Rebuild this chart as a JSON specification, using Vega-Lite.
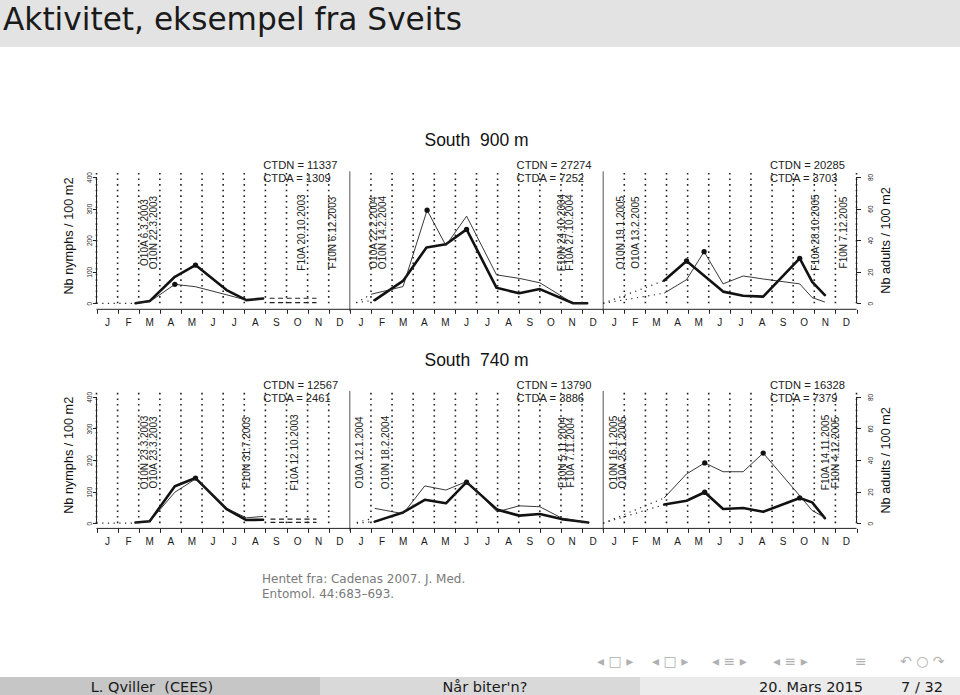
{
"$schema": "https://vega.github.io/schema/vega-lite/v6.json",
"padding": 0,
"background": "white",
"spacing": 0,
"bounds": "flush",
"config": {"view": {"stroke": null}, "font": "Liberation Sans"},
"datasets": {
 "grid": [{"m":0,"type":"month"},{"m":1,"type":"month"},{"m":2,"type":"month"},{"m":3,"type":"month"},{"m":4,"type":"month"},{"m":5,"type":"month"},{"m":6,"type":"month"},{"m":7,"type":"month"},{"m":8,"type":"month"},{"m":9,"type":"month"},{"m":10,"type":"month"},{"m":11,"type":"month"},{"m":12,"type":"year"},{"m":13,"type":"month"},{"m":14,"type":"month"},{"m":15,"type":"month"},{"m":16,"type":"month"},{"m":17,"type":"month"},{"m":18,"type":"month"},{"m":19,"type":"month"},{"m":20,"type":"month"},{"m":21,"type":"month"},{"m":22,"type":"month"},{"m":23,"type":"month"},{"m":24,"type":"year"},{"m":25,"type":"month"},{"m":26,"type":"month"},{"m":27,"type":"month"},{"m":28,"type":"month"},{"m":29,"type":"month"},{"m":30,"type":"month"},{"m":31,"type":"month"},{"m":32,"type":"month"},{"m":33,"type":"month"},{"m":34,"type":"month"},{"m":35,"type":"month"},{"m":36,"type":"month"}],
 "series": [
  {"panel":"900","stage":"N","segment":"2003b","kind":"before","month":0,"count":0},
  {"panel":"900","stage":"N","segment":"2003b","kind":"before","month":1.85,"count":0},
  {"panel":"900","stage":"N","segment":"2003","kind":"sampled","month":1.85,"count":0},
  {"panel":"900","stage":"N","segment":"2003","kind":"sampled","month":2.52,"count":7},
  {"panel":"900","stage":"N","segment":"2003","kind":"sampled","month":3.71,"count":84},
  {"panel":"900","stage":"N","segment":"2003","kind":"sampled","month":4.69,"count":121,"peak":true},
  {"panel":"900","stage":"N","segment":"2003","kind":"sampled","month":6.16,"count":42},
  {"panel":"900","stage":"N","segment":"2003","kind":"sampled","month":7.1,"count":10},
  {"panel":"900","stage":"N","segment":"2003","kind":"sampled","month":7.89,"count":15},
  {"panel":"900","stage":"N","segment":"2003c","kind":"after","month":8.2,"count":16},
  {"panel":"900","stage":"N","segment":"2003c","kind":"after","month":10.42,"count":16},
  {"panel":"900","stage":"N","segment":"2004b","kind":"before","month":12.3,"count":2},
  {"panel":"900","stage":"N","segment":"2004b","kind":"before","month":13.18,"count":10},
  {"panel":"900","stage":"N","segment":"2004","kind":"sampled","month":13.18,"count":10},
  {"panel":"900","stage":"N","segment":"2004","kind":"sampled","month":14.52,"count":71},
  {"panel":"900","stage":"N","segment":"2004","kind":"sampled","month":15.63,"count":177},
  {"panel":"900","stage":"N","segment":"2004","kind":"sampled","month":16.55,"count":187},
  {"panel":"900","stage":"N","segment":"2004","kind":"sampled","month":17.53,"count":234,"peak":true},
  {"panel":"900","stage":"N","segment":"2004","kind":"sampled","month":18.95,"count":49},
  {"panel":"900","stage":"N","segment":"2004","kind":"sampled","month":20.02,"count":32},
  {"panel":"900","stage":"N","segment":"2004","kind":"sampled","month":21.0,"count":45},
  {"panel":"900","stage":"N","segment":"2004","kind":"sampled","month":22.58,"count":0},
  {"panel":"900","stage":"N","segment":"2004","kind":"sampled","month":23.24,"count":0},
  {"panel":"900","stage":"N","segment":"2005b","kind":"before","month":24,"count":0},
  {"panel":"900","stage":"N","segment":"2005b","kind":"before","month":26.89,"count":72},
  {"panel":"900","stage":"N","segment":"2005","kind":"sampled","month":26.89,"count":72},
  {"panel":"900","stage":"N","segment":"2005","kind":"sampled","month":27.95,"count":134,"peak":true},
  {"panel":"900","stage":"N","segment":"2005","kind":"sampled","month":29.68,"count":37},
  {"panel":"900","stage":"N","segment":"2005","kind":"sampled","month":30.63,"count":24},
  {"panel":"900","stage":"N","segment":"2005","kind":"sampled","month":31.58,"count":21},
  {"panel":"900","stage":"N","segment":"2005","kind":"sampled","month":33.31,"count":142,"peak":true},
  {"panel":"900","stage":"N","segment":"2005","kind":"sampled","month":33.9,"count":68},
  {"panel":"900","stage":"N","segment":"2005","kind":"sampled","month":34.5,"count":26},
  {"panel":"900","stage":"A","segment":"2003","kind":"sampled","month":1.85,"count":0},
  {"panel":"900","stage":"A","segment":"2003","kind":"sampled","month":2.52,"count":1},
  {"panel":"900","stage":"A","segment":"2003","kind":"sampled","month":3.71,"count":12,"peak":true},
  {"panel":"900","stage":"A","segment":"2003","kind":"sampled","month":4.69,"count":10.5},
  {"panel":"900","stage":"A","segment":"2003","kind":"sampled","month":6.16,"count":5.4},
  {"panel":"900","stage":"A","segment":"2003","kind":"sampled","month":7.1,"count":2},
  {"panel":"900","stage":"A","segment":"2003","kind":"sampled","month":7.89,"count":2.8},
  {"panel":"900","stage":"A","segment":"2003c","kind":"after","month":8.2,"count":0.4},
  {"panel":"900","stage":"A","segment":"2003c","kind":"after","month":10.42,"count":0.4},
  {"panel":"900","stage":"A","segment":"2004b","kind":"before","month":12.3,"count":0.4},
  {"panel":"900","stage":"A","segment":"2004b","kind":"before","month":13.03,"count":5.8},
  {"panel":"900","stage":"A","segment":"2004","kind":"sampled","month":13.03,"count":5.8},
  {"panel":"900","stage":"A","segment":"2004","kind":"sampled","month":14.52,"count":10.6},
  {"panel":"900","stage":"A","segment":"2004","kind":"sampled","month":15.66,"count":59,"peak":true},
  {"panel":"900","stage":"A","segment":"2004","kind":"sampled","month":16.55,"count":36.6},
  {"panel":"900","stage":"A","segment":"2004","kind":"sampled","month":17.53,"count":55.2},
  {"panel":"900","stage":"A","segment":"2004","kind":"sampled","month":18.95,"count":18},
  {"panel":"900","stage":"A","segment":"2004","kind":"sampled","month":20.02,"count":15.8},
  {"panel":"900","stage":"A","segment":"2004","kind":"sampled","month":21.0,"count":13},
  {"panel":"900","stage":"A","segment":"2004","kind":"sampled","month":22.58,"count":0},
  {"panel":"900","stage":"A","segment":"2004","kind":"sampled","month":23.24,"count":0},
  {"panel":"900","stage":"A","segment":"2005b","kind":"before","month":24,"count":0},
  {"panel":"900","stage":"A","segment":"2005b","kind":"before","month":26.89,"count":6.4},
  {"panel":"900","stage":"A","segment":"2005","kind":"sampled","month":26.89,"count":6.4},
  {"panel":"900","stage":"A","segment":"2005","kind":"sampled","month":27.95,"count":15},
  {"panel":"900","stage":"A","segment":"2005","kind":"sampled","month":28.78,"count":32.7,"peak":true},
  {"panel":"900","stage":"A","segment":"2005","kind":"sampled","month":29.68,"count":12.3},
  {"panel":"900","stage":"A","segment":"2005","kind":"sampled","month":30.63,"count":17.3},
  {"panel":"900","stage":"A","segment":"2005","kind":"sampled","month":31.58,"count":15.4},
  {"panel":"900","stage":"A","segment":"2005","kind":"sampled","month":33.31,"count":12.3},
  {"panel":"900","stage":"A","segment":"2005","kind":"sampled","month":33.9,"count":3.6},
  {"panel":"900","stage":"A","segment":"2005","kind":"sampled","month":34.5,"count":0.8},
  {"panel":"740","stage":"N","segment":"2003b","kind":"before","month":0,"count":0},
  {"panel":"740","stage":"N","segment":"2003b","kind":"before","month":1.85,"count":0},
  {"panel":"740","stage":"N","segment":"2003","kind":"sampled","month":1.85,"count":2},
  {"panel":"740","stage":"N","segment":"2003","kind":"sampled","month":2.52,"count":6},
  {"panel":"740","stage":"N","segment":"2003","kind":"sampled","month":3.71,"count":117},
  {"panel":"740","stage":"N","segment":"2003","kind":"sampled","month":4.69,"count":143,"peak":true},
  {"panel":"740","stage":"N","segment":"2003","kind":"sampled","month":6.16,"count":45},
  {"panel":"740","stage":"N","segment":"2003","kind":"sampled","month":7.1,"count":10},
  {"panel":"740","stage":"N","segment":"2003","kind":"sampled","month":7.89,"count":11},
  {"panel":"740","stage":"N","segment":"2003c","kind":"after","month":8.24,"count":13},
  {"panel":"740","stage":"N","segment":"2003c","kind":"after","month":10.42,"count":13},
  {"panel":"740","stage":"N","segment":"2004b","kind":"before","month":12.33,"count":0},
  {"panel":"740","stage":"N","segment":"2004b","kind":"before","month":13.18,"count":5},
  {"panel":"740","stage":"N","segment":"2004","kind":"sampled","month":13.18,"count":5},
  {"panel":"740","stage":"N","segment":"2004","kind":"sampled","month":14.52,"count":34},
  {"panel":"740","stage":"N","segment":"2004","kind":"sampled","month":15.55,"count":74},
  {"panel":"740","stage":"N","segment":"2004","kind":"sampled","month":16.55,"count":63},
  {"panel":"740","stage":"N","segment":"2004","kind":"sampled","month":17.53,"count":130,"peak":true},
  {"panel":"740","stage":"N","segment":"2004","kind":"sampled","month":18.98,"count":43},
  {"panel":"740","stage":"N","segment":"2004","kind":"sampled","month":20.02,"count":24},
  {"panel":"740","stage":"N","segment":"2004","kind":"sampled","month":21.0,"count":29},
  {"panel":"740","stage":"N","segment":"2004","kind":"sampled","month":22.03,"count":13},
  {"panel":"740","stage":"N","segment":"2004","kind":"sampled","month":22.74,"count":7},
  {"panel":"740","stage":"N","segment":"2004","kind":"sampled","month":23.29,"count":2},
  {"panel":"740","stage":"N","segment":"2005b","kind":"before","month":24,"count":0},
  {"panel":"740","stage":"N","segment":"2005b","kind":"before","month":26.89,"count":59},
  {"panel":"740","stage":"N","segment":"2005","kind":"sampled","month":26.89,"count":59},
  {"panel":"740","stage":"N","segment":"2005","kind":"sampled","month":27.95,"count":71},
  {"panel":"740","stage":"N","segment":"2005","kind":"sampled","month":28.81,"count":98,"peak":true},
  {"panel":"740","stage":"N","segment":"2005","kind":"sampled","month":29.68,"count":45},
  {"panel":"740","stage":"N","segment":"2005","kind":"sampled","month":30.63,"count":48},
  {"panel":"740","stage":"N","segment":"2005","kind":"sampled","month":31.58,"count":36},
  {"panel":"740","stage":"N","segment":"2005","kind":"sampled","month":33.31,"count":80,"peak":true},
  {"panel":"740","stage":"N","segment":"2005","kind":"sampled","month":33.9,"count":66},
  {"panel":"740","stage":"N","segment":"2005","kind":"sampled","month":34.5,"count":16},
  {"panel":"740","stage":"A","segment":"2003","kind":"sampled","month":1.85,"count":0.4},
  {"panel":"740","stage":"A","segment":"2003","kind":"sampled","month":2.52,"count":1},
  {"panel":"740","stage":"A","segment":"2003","kind":"sampled","month":3.71,"count":19.6},
  {"panel":"740","stage":"A","segment":"2003","kind":"sampled","month":4.69,"count":28},
  {"panel":"740","stage":"A","segment":"2003","kind":"sampled","month":6.16,"count":9.4},
  {"panel":"740","stage":"A","segment":"2003","kind":"sampled","month":7.1,"count":3.4},
  {"panel":"740","stage":"A","segment":"2003","kind":"sampled","month":7.89,"count":4.3},
  {"panel":"740","stage":"A","segment":"2003c","kind":"after","month":8.24,"count":0.5},
  {"panel":"740","stage":"A","segment":"2003c","kind":"after","month":10.42,"count":0.5},
  {"panel":"740","stage":"A","segment":"2004b","kind":"before","month":12.33,"count":0.5},
  {"panel":"740","stage":"A","segment":"2004b","kind":"before","month":12.96,"count":2.6},
  {"panel":"740","stage":"A","segment":"2004","kind":"sampled","month":13.18,"count":9.4},
  {"panel":"740","stage":"A","segment":"2004","kind":"sampled","month":14.52,"count":6},
  {"panel":"740","stage":"A","segment":"2004","kind":"sampled","month":15.55,"count":23.6},
  {"panel":"740","stage":"A","segment":"2004","kind":"sampled","month":16.55,"count":21},
  {"panel":"740","stage":"A","segment":"2004","kind":"sampled","month":17.53,"count":26.4},
  {"panel":"740","stage":"A","segment":"2004","kind":"sampled","month":18.98,"count":7.2},
  {"panel":"740","stage":"A","segment":"2004","kind":"sampled","month":20.02,"count":11},
  {"panel":"740","stage":"A","segment":"2004","kind":"sampled","month":21.0,"count":10.4},
  {"panel":"740","stage":"A","segment":"2004","kind":"sampled","month":22.03,"count":3.3},
  {"panel":"740","stage":"A","segment":"2004","kind":"sampled","month":22.74,"count":1.6},
  {"panel":"740","stage":"A","segment":"2004","kind":"sampled","month":23.29,"count":0.4},
  {"panel":"740","stage":"A","segment":"2005b","kind":"before","month":24,"count":0},
  {"panel":"740","stage":"A","segment":"2005b","kind":"before","month":26.89,"count":16},
  {"panel":"740","stage":"A","segment":"2005","kind":"sampled","month":26.89,"count":16},
  {"panel":"740","stage":"A","segment":"2005","kind":"sampled","month":27.95,"count":31.2},
  {"panel":"740","stage":"A","segment":"2005","kind":"sampled","month":28.81,"count":38.2,"peak":true},
  {"panel":"740","stage":"A","segment":"2005","kind":"sampled","month":29.68,"count":32.6},
  {"panel":"740","stage":"A","segment":"2005","kind":"sampled","month":30.63,"count":32.6},
  {"panel":"740","stage":"A","segment":"2005","kind":"sampled","month":31.58,"count":44.4,"peak":true},
  {"panel":"740","stage":"A","segment":"2005","kind":"sampled","month":33.31,"count":17.4},
  {"panel":"740","stage":"A","segment":"2005","kind":"sampled","month":33.9,"count":8},
  {"panel":"740","stage":"A","segment":"2005","kind":"sampled","month":34.5,"count":3.6}
 ],
 "notes": [
  {"panel":"900","month":2.31,"label":"O10A 6.3.2003"},
  {"panel":"900","month":2.71,"label":"O10N 22.3.2003"},
  {"panel":"900","month":9.74,"label":"F10A 20.10.2003"},
  {"panel":"900","month":11.2,"label":"F10N 6.12.2003"},
  {"panel":"900","month":13.13,"label":"O10A 22.2.2004"},
  {"panel":"900","month":13.57,"label":"O10N 14.2.2004"},
  {"panel":"900","month":22.06,"label":"F10N 24.10.2004"},
  {"panel":"900","month":22.43,"label":"F10A 27.10.2004"},
  {"panel":"900","month":24.85,"label":"O10N 19.1.2005"},
  {"panel":"900","month":25.57,"label":"O10A 13.2.2005"},
  {"panel":"900","month":34.06,"label":"F10A 28.10.2005"},
  {"panel":"900","month":35.42,"label":"F10N 7.12.2005"},
  {"panel":"740","month":2.31,"label":"O10N 23.3.2003"},
  {"panel":"740","month":2.71,"label":"O10A 23.3.2003"},
  {"panel":"740","month":7.11,"label":"F10N 31.7.2003"},
  {"panel":"740","month":9.38,"label":"F10A 12.10.2003"},
  {"panel":"740","month":12.5,"label":"O10A 12.1.2004"},
  {"panel":"740","month":13.69,"label":"O10N 18.2.2004"},
  {"panel":"740","month":22.11,"label":"F10N 5.11.2004"},
  {"panel":"740","month":22.49,"label":"F10A 7.11.2004"},
  {"panel":"740","month":24.53,"label":"O10N 16.1.2005"},
  {"panel":"740","month":24.94,"label":"O10A 25.1.2005"},
  {"panel":"740","month":34.57,"label":"F10A 14.11.2005"},
  {"panel":"740","month":35.04,"label":"F10N 4.12.2005"}
 ],
 "totals": [
  {"panel":"900","month":7.9,"ctdn":"CTDN = 11337","ctda":"CTDA = 1309"},
  {"panel":"900","month":19.9,"ctdn":"CTDN = 27274","ctda":"CTDA = 7252"},
  {"panel":"900","month":31.9,"ctdn":"CTDN = 20285","ctda":"CTDA = 3703"},
  {"panel":"740","month":7.9,"ctdn":"CTDN = 12567","ctda":"CTDA = 2461"},
  {"panel":"740","month":19.9,"ctdn":"CTDN = 13790","ctda":"CTDA = 3886"},
  {"panel":"740","month":31.9,"ctdn":"CTDN = 16328","ctda":"CTDA = 7379"}
 ]
},
"vconcat": [
 {
  "width": 960, "height": 47,
  "view": {"fill": "#e3e3e3", "stroke": null},
  "data": {"values": [{"title": "Aktivitet, eksempel fra Sveits"}]},
  "mark": {"type": "text", "x": 3, "y": 30, "align": "left", "baseline": "alphabetic", "font": "DejaVu Sans", "fontSize": 31.2, "color": "#1a1a1a"},
  "encoding": {"text": {"field": "title"}}
 },
 {
  "width": 960, "height": 262.3,
  "layer": [
   {"layer": [
    {"data": {"name": "series"}, "transform": [{"filter": "datum.panel == '900' && datum.stage == 'N' && datum.kind == 'sampled'"}],
     "mark": {"type": "line", "strokeWidth": 2.6, "color": "#111", "strokeJoin": "round", "strokeCap": "round"},
     "encoding": {
      "x": {"field": "month", "type": "quantitative", "scale": {"domain": [-4.571, 40.902], "nice": false, "zero": false}, "axis": {"values": [0.5,1.5,2.5,3.5,4.5,5.5,6.5,7.5,8.5,9.5,10.5,11.5,12.5,13.5,14.5,15.5,16.5,17.5,18.5,19.5,20.5,21.5,22.5,23.5,24.5,25.5,26.5,27.5,28.5,29.5,30.5,31.5,32.5,33.5,34.5,35.5,36.5], "tickCount": 100, "labelExpr": "datum.value > 36 ? '' : ['J','F','M','A','M','J','J','A','S','O','N','D'][floor(datum.value) % 12]", "tickOffset": -10.5557, "labelOffset": 10.5557, "domain": false, "grid": false, "tickSize": 4, "tickColor": "#222", "labelFontSize": 10, "labelColor": "#1a1a1a", "labelPadding": 4.5, "labelFlush": false, "labelOverlap": false, "title": null}},
      "y": {"field": "count", "type": "quantitative", "scale": {"domain": [-19, 811.72], "nice": false, "zero": false}, "axis": {"orient": "left", "offset": -96.5, "values": [0,100,200,300,400], "tickCount": 50, "domain": false, "grid": false, "tickSize": 4, "tickColor": "#222", "labelAngle": 270, "labelAlign": "center", "labelBaseline": "bottom", "labelPadding": 0.5, "labelFontSize": 6.5, "labelColor": "#222", "title": null}},
      "detail": {"field": "segment"}}},
    {"data": {"name": "grid"}, "transform": [{"filter": "datum.type == 'month'"}],
     "mark": {"type": "rule", "strokeDash": [1.6, 4], "strokeWidth": 1.6, "color": "#222"},
     "encoding": {"x": {"field": "m", "type": "quantitative"}, "y": {"datum": 0, "type": "quantitative"}, "y2": {"datum": 422}}},
    {"data": {"name": "grid"}, "transform": [{"filter": "datum.type == 'year'"}],
     "mark": {"type": "rule", "strokeWidth": 1, "color": "#555"},
     "encoding": {"x": {"field": "m", "type": "quantitative"}, "y": {"datum": -25}, "y2": {"datum": 418}}},
    {"data": {"values": [{}]}, "mark": {"type": "rule", "strokeWidth": 1, "color": "#222"},
     "encoding": {"x": {"datum": 0}, "y": {"datum": 0}, "y2": {"datum": 400}}},
    {"data": {"values": [{}]}, "mark": {"type": "rule", "strokeWidth": 1, "color": "#222"},
     "encoding": {"x": {"datum": 36}, "y": {"datum": 0}, "y2": {"datum": 400}}},
    {"data": {"values": [{}]}, "mark": {"type": "rule", "strokeWidth": 1, "color": "#222"},
     "encoding": {"x": {"datum": 0}, "x2": {"datum": 36}, "y": {"datum": -19}}},
    {"data": {"name": "notes"}, "transform": [{"filter": "datum.panel == '900'"}],
     "mark": {"type": "text", "angle": 270, "align": "center", "baseline": "middle", "fontSize": 10, "color": "#222"},
     "encoding": {"x": {"field": "month", "type": "quantitative"}, "y": {"datum": 224}, "text": {"field": "label"}}},
    {"data": {"name": "totals"}, "transform": [{"filter": "datum.panel == '900'"}],
     "mark": {"type": "text", "align": "left", "baseline": "middle", "fontSize": 11.2, "color": "#222"},
     "encoding": {"x": {"field": "month", "type": "quantitative"}, "y": {"datum": 434}, "text": {"field": "ctdn"}}},
    {"data": {"name": "totals"}, "transform": [{"filter": "datum.panel == '900'"}],
     "mark": {"type": "text", "align": "left", "baseline": "middle", "fontSize": 11.2, "color": "#222"},
     "encoding": {"x": {"field": "month", "type": "quantitative"}, "y": {"datum": 393}, "text": {"field": "ctda"}}},
    {"data": {"values": [{}]},
     "mark": {"type": "text", "align": "center", "baseline": "middle", "fontSize": 17.5, "color": "#111"},
     "encoding": {"x": {"datum": 18}, "y": {"datum": 513}, "text": {"value": "South\u00a0 900 m"}}},
    {"data": {"values": [{}]},
     "mark": {"type": "text", "angle": 270, "align": "center", "baseline": "middle", "fontSize": 12.7, "color": "#111"},
     "encoding": {"x": {"datum": -1.32}, "y": {"datum": 213}, "text": {"value": "Nb nymphs / 100 m2"}}},
    {"data": {"values": [{}]},
     "mark": {"type": "text", "angle": 270, "align": "center", "baseline": "middle", "fontSize": 12.7, "color": "#111"},
     "encoding": {"x": {"datum": 37.42}, "y": {"datum": 199}, "text": {"value": "Nb adults / 100 m2"}}},
    {"data": {"name": "series"}, "transform": [{"filter": "datum.panel == '900' && datum.stage == 'N' && datum.kind != 'sampled'"}],
     "mark": {"type": "line", "strokeWidth": 1.2, "color": "#222"},
     "encoding": {"x": {"field": "month", "type": "quantitative"}, "y": {"field": "count", "type": "quantitative"}, "detail": {"field": "segment"},
      "strokeDash": {"field": "kind", "type": "nominal", "scale": {"domain": ["before", "after"], "range": [[1.2, 4.5], [5, 3.5]]}, "legend": null}}},
    {"data": {"name": "series"}, "transform": [{"filter": "datum.panel == '900' && datum.stage == 'N' && datum.peak"}],
     "mark": {"type": "circle", "size": 28, "color": "#111", "opacity": 1},
     "encoding": {"x": {"field": "month", "type": "quantitative"}, "y": {"field": "count", "type": "quantitative"}}}
   ]},
   {"layer": [
    {"data": {"name": "series"}, "transform": [{"filter": "datum.panel == '900' && datum.stage == 'A' && datum.kind == 'sampled'"}],
     "mark": {"type": "line", "strokeWidth": 0.9, "color": "#222"},
     "encoding": {"x": {"field": "month", "type": "quantitative"},
      "y": {"field": "count", "type": "quantitative", "scale": {"domain": [-3.8, 162.344], "nice": false, "zero": false}, "axis": {"orient": "right", "offset": -103.5, "values": [0,20,40,60,80], "tickCount": 50, "domain": false, "grid": false, "tickSize": 4, "tickColor": "#222", "labelAngle": 270, "labelAlign": "center", "labelBaseline": "top", "labelPadding": 6.5, "labelFontSize": 6.5, "labelColor": "#222", "title": null}},
      "detail": {"field": "segment"}}},
    {"data": {"name": "series"}, "transform": [{"filter": "datum.panel == '900' && datum.stage == 'A' && datum.kind != 'sampled'"}],
     "mark": {"type": "line", "strokeWidth": 1.1, "color": "#222"},
     "encoding": {"x": {"field": "month", "type": "quantitative"}, "y": {"field": "count", "type": "quantitative"}, "detail": {"field": "segment"},
      "strokeDash": {"field": "kind", "type": "nominal", "scale": {"domain": ["before", "after"], "range": [[1.2, 4.5], [5, 3.5]]}, "legend": null}}},
    {"data": {"name": "series"}, "transform": [{"filter": "datum.panel == '900' && datum.stage == 'A' && datum.peak"}],
     "mark": {"type": "circle", "size": 28, "color": "#111", "opacity": 1},
     "encoding": {"x": {"field": "month", "type": "quantitative"}, "y": {"field": "count", "type": "quantitative"}}}
   ]}
  ],
  "resolve": {"scale": {"y": "independent"}, "axis": {"y": "independent"}}
 },
 {
  "width": 960, "height": 218.4,
  "layer": [
   {"layer": [
    {"data": {"name": "series"}, "transform": [{"filter": "datum.panel == '740' && datum.stage == 'N' && datum.kind == 'sampled'"}],
     "mark": {"type": "line", "strokeWidth": 2.6, "color": "#111", "strokeJoin": "round", "strokeCap": "round"},
     "encoding": {
      "x": {"field": "month", "type": "quantitative", "scale": {"domain": [-4.571, 40.902], "nice": false, "zero": false}, "axis": {"values": [0.5,1.5,2.5,3.5,4.5,5.5,6.5,7.5,8.5,9.5,10.5,11.5,12.5,13.5,14.5,15.5,16.5,17.5,18.5,19.5,20.5,21.5,22.5,23.5,24.5,25.5,26.5,27.5,28.5,29.5,30.5,31.5,32.5,33.5,34.5,35.5,36.5], "tickCount": 100, "labelExpr": "datum.value > 36 ? '' : ['J','F','M','A','M','J','J','A','S','O','N','D'][floor(datum.value) % 12]", "tickOffset": -10.5557, "labelOffset": 10.5557, "domain": false, "grid": false, "tickSize": 4, "tickColor": "#222", "labelFontSize": 10, "labelColor": "#1a1a1a", "labelPadding": 4.5, "labelFlush": false, "labelOverlap": false, "title": null}},
      "y": {"field": "count", "type": "quantitative", "scale": {"domain": [-16.47, 675.22], "nice": false, "zero": false}, "axis": {"orient": "left", "offset": -96.5, "values": [0,100,200,300,400], "tickCount": 50, "domain": false, "grid": false, "tickSize": 4, "tickColor": "#222", "labelAngle": 270, "labelAlign": "center", "labelBaseline": "bottom", "labelPadding": 0.5, "labelFontSize": 6.5, "labelColor": "#222", "title": null}},
      "detail": {"field": "segment"}}},
    {"data": {"name": "grid"}, "transform": [{"filter": "datum.type == 'month'"}],
     "mark": {"type": "rule", "strokeDash": [1.6, 4], "strokeWidth": 1.6, "color": "#222"},
     "encoding": {"x": {"field": "m", "type": "quantitative"}, "y": {"datum": 0, "type": "quantitative"}, "y2": {"datum": 421}}},
    {"data": {"name": "grid"}, "transform": [{"filter": "datum.type == 'year'"}],
     "mark": {"type": "rule", "strokeWidth": 1, "color": "#555"},
     "encoding": {"x": {"field": "m", "type": "quantitative"}, "y": {"datum": -24}, "y2": {"datum": 419}}},
    {"data": {"values": [{}]}, "mark": {"type": "rule", "strokeWidth": 1, "color": "#222"},
     "encoding": {"x": {"datum": 0}, "y": {"datum": 0}, "y2": {"datum": 400}}},
    {"data": {"values": [{}]}, "mark": {"type": "rule", "strokeWidth": 1, "color": "#222"},
     "encoding": {"x": {"datum": 36}, "y": {"datum": 0}, "y2": {"datum": 400}}},
    {"data": {"values": [{}]}, "mark": {"type": "rule", "strokeWidth": 1, "color": "#222"},
     "encoding": {"x": {"datum": 0}, "x2": {"datum": 36}, "y": {"datum": -16.47}}},
    {"data": {"name": "notes"}, "transform": [{"filter": "datum.panel == '740'"}],
     "mark": {"type": "text", "angle": 270, "align": "center", "baseline": "middle", "fontSize": 10, "color": "#222"},
     "encoding": {"x": {"field": "month", "type": "quantitative"}, "y": {"datum": 224}, "text": {"field": "label"}}},
    {"data": {"name": "totals"}, "transform": [{"filter": "datum.panel == '740'"}],
     "mark": {"type": "text", "align": "left", "baseline": "middle", "fontSize": 11.2, "color": "#222"},
     "encoding": {"x": {"field": "month", "type": "quantitative"}, "y": {"datum": 434}, "text": {"field": "ctdn"}}},
    {"data": {"name": "totals"}, "transform": [{"filter": "datum.panel == '740'"}],
     "mark": {"type": "text", "align": "left", "baseline": "middle", "fontSize": 11.2, "color": "#222"},
     "encoding": {"x": {"field": "month", "type": "quantitative"}, "y": {"datum": 393}, "text": {"field": "ctda"}}},
    {"data": {"values": [{}]},
     "mark": {"type": "text", "align": "center", "baseline": "middle", "fontSize": 17.5, "color": "#111"},
     "encoding": {"x": {"datum": 18}, "y": {"datum": 513}, "text": {"value": "South\u00a0 740 m"}}},
    {"data": {"values": [{}]},
     "mark": {"type": "text", "angle": 270, "align": "center", "baseline": "middle", "fontSize": 12.7, "color": "#111"},
     "encoding": {"x": {"datum": -1.32}, "y": {"datum": 215}, "text": {"value": "Nb nymphs / 100 m2"}}},
    {"data": {"values": [{}]},
     "mark": {"type": "text", "angle": 270, "align": "center", "baseline": "middle", "fontSize": 12.7, "color": "#111"},
     "encoding": {"x": {"datum": 37.42}, "y": {"datum": 199}, "text": {"value": "Nb adults / 100 m2"}}},
    {"data": {"name": "series"}, "transform": [{"filter": "datum.panel == '740' && datum.stage == 'N' && datum.kind != 'sampled'"}],
     "mark": {"type": "line", "strokeWidth": 1.2, "color": "#222"},
     "encoding": {"x": {"field": "month", "type": "quantitative"}, "y": {"field": "count", "type": "quantitative"}, "detail": {"field": "segment"},
      "strokeDash": {"field": "kind", "type": "nominal", "scale": {"domain": ["before", "after"], "range": [[1.2, 4.5], [5, 3.5]]}, "legend": null}}},
    {"data": {"name": "series"}, "transform": [{"filter": "datum.panel == '740' && datum.stage == 'N' && datum.peak"}],
     "mark": {"type": "circle", "size": 28, "color": "#111", "opacity": 1},
     "encoding": {"x": {"field": "month", "type": "quantitative"}, "y": {"field": "count", "type": "quantitative"}}}
   ]},
   {"layer": [
    {"data": {"name": "series"}, "transform": [{"filter": "datum.panel == '740' && datum.stage == 'A' && datum.kind == 'sampled'"}],
     "mark": {"type": "line", "strokeWidth": 0.9, "color": "#222"},
     "encoding": {"x": {"field": "month", "type": "quantitative"},
      "y": {"field": "count", "type": "quantitative", "scale": {"domain": [-3.294, 135.044], "nice": false, "zero": false}, "axis": {"orient": "right", "offset": -103.5, "values": [0,20,40,60,80], "tickCount": 50, "domain": false, "grid": false, "tickSize": 4, "tickColor": "#222", "labelAngle": 270, "labelAlign": "center", "labelBaseline": "top", "labelPadding": 6.5, "labelFontSize": 6.5, "labelColor": "#222", "title": null}},
      "detail": {"field": "segment"}}},
    {"data": {"name": "series"}, "transform": [{"filter": "datum.panel == '740' && datum.stage == 'A' && datum.kind != 'sampled'"}],
     "mark": {"type": "line", "strokeWidth": 1.1, "color": "#222"},
     "encoding": {"x": {"field": "month", "type": "quantitative"}, "y": {"field": "count", "type": "quantitative"}, "detail": {"field": "segment"},
      "strokeDash": {"field": "kind", "type": "nominal", "scale": {"domain": ["before", "after"], "range": [[1.2, 4.5], [5, 3.5]]}, "legend": null}}},
    {"data": {"name": "series"}, "transform": [{"filter": "datum.panel == '740' && datum.stage == 'A' && datum.peak"}],
     "mark": {"type": "circle", "size": 28, "color": "#111", "opacity": 1},
     "encoding": {"x": {"field": "month", "type": "quantitative"}, "y": {"field": "count", "type": "quantitative"}}}
   ]}
  ],
  "resolve": {"scale": {"y": "independent"}, "axis": {"y": "independent"}}
 },
 {
  "width": 960, "height": 147.3,
  "data": {"values": [{}]},
  "layer": [
   {"mark": {"type": "text", "x": 262, "y": 50.3, "align": "left", "baseline": "middle", "font": "DejaVu Sans", "fontSize": 12, "color": "#7a7a7a"},
    "encoding": {"text": {"value": "Hentet fra: Cadenas 2007. J. Med."}}},
   {"mark": {"type": "text", "x": 262, "y": 65.3, "align": "left", "baseline": "middle", "font": "DejaVu Sans", "fontSize": 12, "color": "#7a7a7a"},
    "encoding": {"text": {"value": "Entomol. 44:683–693."}}},
   {"mark": {"type": "text", "x": 597, "y": 132.5, "align": "left", "baseline": "middle", "font": "DejaVu Sans", "fontSize": 14, "color": "#b0b0b0"},
    "encoding": {"text": {"value": "◂ □ ▸"}}},
   {"mark": {"type": "text", "x": 652, "y": 132.5, "align": "left", "baseline": "middle", "font": "DejaVu Sans", "fontSize": 14, "color": "#b0b0b0"},
    "encoding": {"text": {"value": "◂ □ ▸"}}},
   {"mark": {"type": "text", "x": 712, "y": 132.5, "align": "left", "baseline": "middle", "font": "DejaVu Sans", "fontSize": 14, "color": "#b0b0b0"},
    "encoding": {"text": {"value": "◂ ≡ ▸"}}},
   {"mark": {"type": "text", "x": 773, "y": 132.5, "align": "left", "baseline": "middle", "font": "DejaVu Sans", "fontSize": 14, "color": "#b0b0b0"},
    "encoding": {"text": {"value": "◂ ≡ ▸"}}},
   {"mark": {"type": "text", "x": 855, "y": 132.5, "align": "left", "baseline": "middle", "font": "DejaVu Sans", "fontSize": 14, "color": "#b0b0b0"},
    "encoding": {"text": {"value": "≡"}}},
   {"mark": {"type": "text", "x": 900, "y": 132.5, "align": "left", "baseline": "middle", "font": "DejaVu Sans", "fontSize": 14, "color": "#b0b0b0"},
    "encoding": {"text": {"value": "↶ ○ ↷"}}}
  ]
 },
 {
  "hconcat": [
   {"width": 320, "height": 20, "view": {"fill": "#c6c6c6", "stroke": null},
    "data": {"values": [{"t": "L. Qviller\u00a0 (CEES)"}]},
    "mark": {"type": "text", "x": 152, "y": 10.5, "align": "center", "baseline": "middle", "font": "DejaVu Sans", "fontSize": 14.5, "color": "#1a1a1a"},
    "encoding": {"text": {"field": "t"}}},
   {"width": 320, "height": 20, "view": {"fill": "#d9d9d9", "stroke": null},
    "data": {"values": [{"t": "Når biter'n?"}]},
    "mark": {"type": "text", "x": 165, "y": 10.5, "align": "center", "baseline": "middle", "font": "DejaVu Sans", "fontSize": 14.5, "color": "#1a1a1a"},
    "encoding": {"text": {"field": "t"}}},
   {"width": 320, "height": 20, "view": {"fill": "#ebebeb", "stroke": null},
    "data": {"values": [{"d": "20. Mars 2015", "p": "7 / 32"}]},
    "layer": [
     {"mark": {"type": "text", "x": 171, "y": 10.5, "align": "center", "baseline": "middle", "font": "DejaVu Sans", "fontSize": 14.5, "color": "#1a1a1a"},
      "encoding": {"text": {"field": "d"}}},
     {"mark": {"type": "text", "x": 282, "y": 10.5, "align": "center", "baseline": "middle", "font": "DejaVu Sans", "fontSize": 14.5, "color": "#1a1a1a"},
      "encoding": {"text": {"field": "p"}}}
    ]}
  ],
  "spacing": 0,
  "bounds": "flush"
 }
]
}
